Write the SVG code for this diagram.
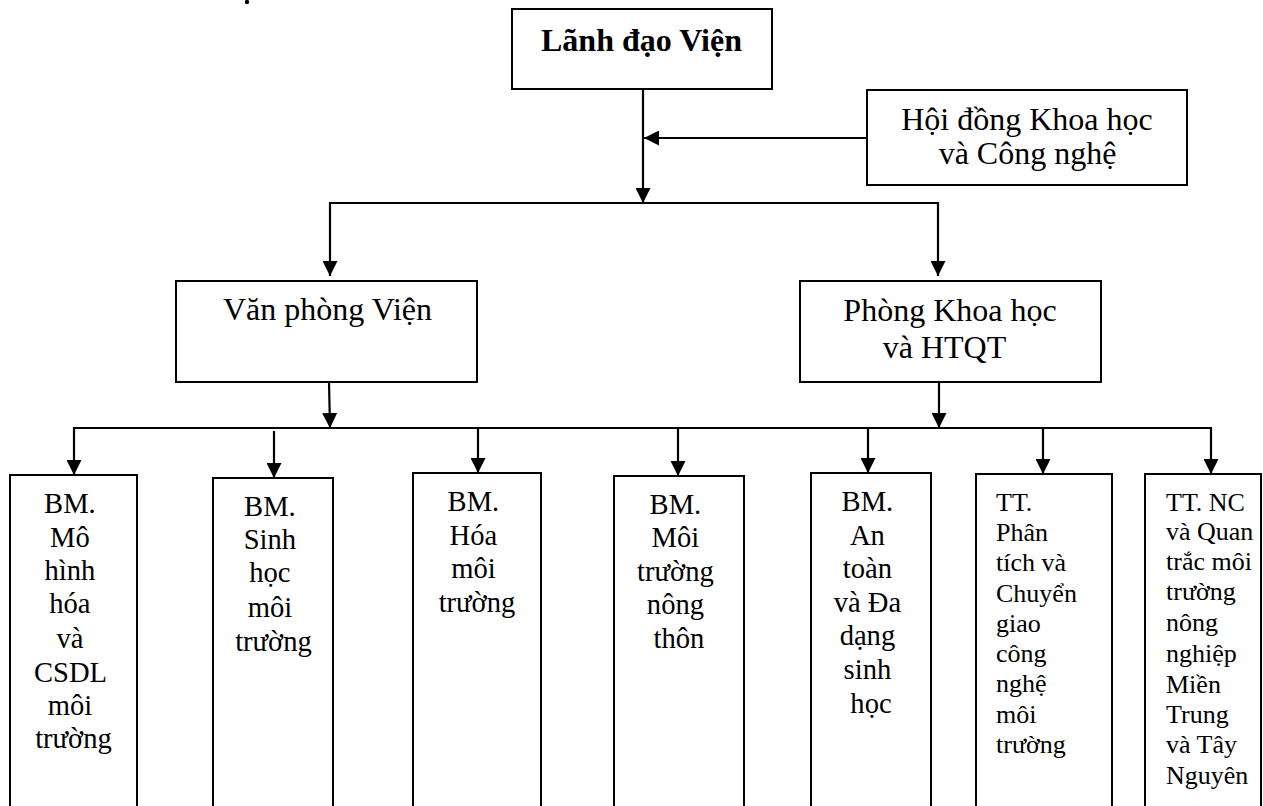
<svg xmlns="http://www.w3.org/2000/svg" width="1263" height="806" viewBox="0 0 1263 806">
<defs>
<marker id="arr" markerUnits="userSpaceOnUse" markerWidth="15" markerHeight="15" refX="15" refY="7.5" orient="auto">
<path d="M0,0 L15,7.5 L0,15 z" fill="#000"/>
</marker>
<style>
.box{fill:#fff;stroke:#000;stroke-width:2}
.ln{fill:none;stroke:#000;stroke-width:2.2}
.ar{fill:none;stroke:#000;stroke-width:2.2;marker-end:url(#arr)}
.t{font-family:"Liberation Serif","Times New Roman",serif;fill:#000}
.top{font-size:32px;text-anchor:middle}
.b{font-size:28.6px;text-anchor:middle}
.s{font-size:26px}
</style>
</defs>
<rect width="1263" height="806" fill="#fff"/>
<circle cx="247" cy="2" r="2.2" fill="#000"/>

<g id="connectors">
<line class="ar" x1="643" y1="89" x2="643" y2="203"/>
<line class="ar" x1="867" y1="138" x2="644" y2="138"/>
<polyline class="ln" points="330,203 938,203"/>
<line class="ar" x1="330" y1="202" x2="330" y2="276"/>
<line class="ar" x1="938" y1="202" x2="938" y2="276"/>
<line class="ar" x1="329" y1="382" x2="330" y2="428"/>
<line class="ar" x1="939" y1="382" x2="939" y2="428"/>
<polyline class="ln" points="74,428 1211,428"/>
<line class="ar" x1="74" y1="427" x2="74" y2="475"/>
<line class="ar" x1="274" y1="431" x2="274" y2="478"/>
<line class="ar" x1="478" y1="427" x2="478" y2="473"/>
<line class="ar" x1="678" y1="427" x2="678" y2="476"/>
<line class="ar" x1="868" y1="427" x2="868" y2="473"/>
<line class="ar" x1="1043" y1="427" x2="1043" y2="474"/>
<line class="ar" x1="1211" y1="427" x2="1211" y2="474"/>
</g>

<g id="lanh-dao">
<rect class="box" x="512" y="9" width="260" height="80"/>
<text class="t top" x="641.5" y="51" font-weight="bold">Lãnh đạo Viện</text>
</g>

<g id="hoi-dong">
<rect class="box" x="867" y="90" width="320" height="95"/>
<text class="t top" x="1027" y="130">Hội đồng Khoa học</text>
<text class="t top" x="1027.5" y="164">và Công nghệ</text>
</g>

<g id="van-phong">
<rect class="box" x="176" y="281" width="301" height="101"/>
<text class="t top" x="327.5" y="320">Văn phòng Viện</text>
</g>

<g id="phong-khoa-hoc">
<rect class="box" x="800" y="281" width="301" height="101"/>
<text class="t top" x="950" y="321">Phòng Khoa học</text>
<text class="t top" x="944.5" y="358">và HTQT</text>
</g>

<g id="bm-mo-hinh">
<rect class="box" x="10" y="475" width="127" height="360"/>
<text class="t b" x="73.5">
<tspan x="73.5" y="513">BM.</tspan>
<tspan x="73.5" y="547">Mô</tspan>
<tspan x="73.5" y="580">hình</tspan>
<tspan x="73.5" y="613">hóa</tspan>
<tspan x="73.5" y="648">và</tspan>
<tspan x="73.5" y="682">CSDL</tspan>
<tspan x="73.5" y="715">môi</tspan>
<tspan x="73.5" y="748">trường</tspan>
</text>
</g>

<g id="bm-sinh-hoc">
<rect class="box" x="213" y="478" width="120" height="360"/>
<text class="t b">
<tspan x="273.5" y="516">BM.</tspan>
<tspan x="273.5" y="549">Sinh</tspan>
<tspan x="273.5" y="582">học</tspan>
<tspan x="273.5" y="617">môi</tspan>
<tspan x="273.5" y="651">trường</tspan>
</text>
</g>

<g id="bm-hoa">
<rect class="box" x="413" y="473" width="128" height="360"/>
<text class="t b">
<tspan x="477" y="511">BM.</tspan>
<tspan x="477" y="545">Hóa</tspan>
<tspan x="477" y="578">môi</tspan>
<tspan x="477" y="612">trường</tspan>
</text>
</g>

<g id="bm-nong-thon">
<rect class="box" x="614" y="476" width="130" height="360"/>
<text class="t b">
<tspan x="679" y="514">BM.</tspan>
<tspan x="679" y="547">Môi</tspan>
<tspan x="679" y="581">trường</tspan>
<tspan x="679" y="614">nông</tspan>
<tspan x="679" y="648">thôn</tspan>
</text>
</g>

<g id="bm-an-toan">
<rect class="box" x="811" y="473" width="120" height="360"/>
<text class="t b">
<tspan x="871" y="511">BM.</tspan>
<tspan x="871" y="545">An</tspan>
<tspan x="871" y="578">toàn</tspan>
<tspan x="871" y="612">và Đa</tspan>
<tspan x="871" y="645">dạng</tspan>
<tspan x="871" y="679">sinh</tspan>
<tspan x="871" y="713">học</tspan>
</text>
</g>

<g id="tt-phan-tich">
<rect class="box" x="976" y="474" width="136" height="360"/>
<text class="t s">
<tspan x="996" y="511">TT.</tspan>
<tspan x="996" y="541">Phân</tspan>
<tspan x="996" y="571">tích và</tspan>
<tspan x="996" y="602">Chuyển</tspan>
<tspan x="996" y="632">giao</tspan>
<tspan x="996" y="662">công</tspan>
<tspan x="996" y="692">nghệ</tspan>
<tspan x="996" y="723">môi</tspan>
<tspan x="996" y="753">trường</tspan>
</text>
</g>

<g id="tt-nc-quan-trac">
<rect class="box" x="1145" y="474" width="116" height="360"/>
<text class="t s">
<tspan x="1166" y="511">TT. NC</tspan>
<tspan x="1166" y="540">và Quan</tspan>
<tspan x="1166" y="570">trắc môi</tspan>
<tspan x="1166" y="600">trường</tspan>
<tspan x="1166" y="631">nông</tspan>
<tspan x="1166" y="662">nghiệp</tspan>
<tspan x="1166" y="693">Miền</tspan>
<tspan x="1166" y="723">Trung</tspan>
<tspan x="1166" y="753">và Tây</tspan>
<tspan x="1166" y="784">Nguyên</tspan>
</text>
</g>
</svg>
